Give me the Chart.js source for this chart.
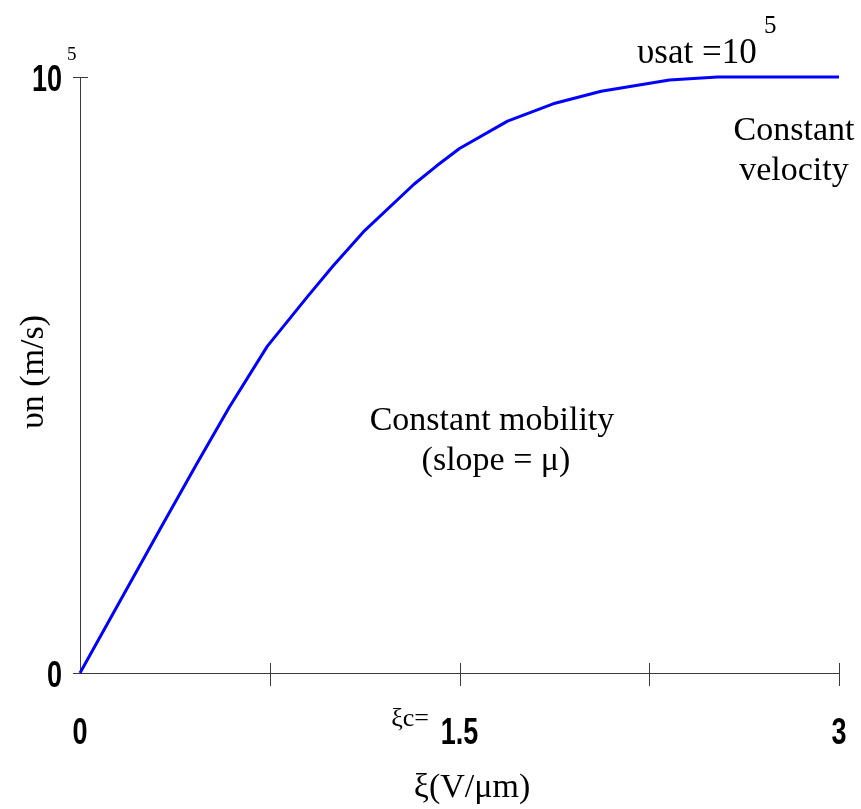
<!DOCTYPE html>
<html>
<head>
<meta charset="utf-8">
<script src="https://cdn.jsdelivr.net/npm/chart.js@4/dist/chart.umd.min.js"></script>
<style>
    html, body { margin: 0; padding: 0; background: #ffffff; }
    #wrap { width: 861px; height: 809px; }
</style>
</head>
<body>
<div id="wrap"><canvas id="velocity-chart" width="861" height="809"></canvas></div>
<script>
// Data: field (V/um) vs drift velocity (m/s)
const fieldValues = [0, 0.16, 0.32, 0.46, 0.59, 0.74, 0.90, 1.00, 1.12, 1.32, 1.41, 1.50, 1.69, 1.87, 2.06, 2.33, 2.52, 3.00];
const velocityValues = [0, 12200, 24400, 35000, 44600, 54800, 63200, 68300, 74000, 82000, 85100, 88000, 92600, 95500, 97600, 99500, 100000, 100000];

// Tick marks and their labels
const xTickValues = [0, 0.75, 1.5, 2.25, 3];
const xTickLabels = ['0', '', '1.5', '', '3'];
const yTickValues = [0, 100000];
const yTickLabels = ['0', '10'];
const yTickSups = ['', '5'];

const SERIF = '"Liberation Serif", "Times New Roman", serif';
const SANS = '"Liberation Sans", Arial, sans-serif';
const AXIS_COLOR = '#3a3a3a';

// Bold, horizontally squeezed tick label (looks like Arial Narrow)
function narrowText(ctx, text, x, y, align) {
    ctx.save();
    ctx.font = 'bold 36px ' + SANS;
    const w = ctx.measureText(text).width * 0.75;
    let left = x;
    if (align === 'center') left = x - w / 2;
    if (align === 'right') left = x - w;
    ctx.translate(left, y);
    ctx.scale(0.75, 1);
    ctx.textAlign = 'left';
    ctx.textBaseline = 'alphabetic';
    ctx.fillText(text, 0, 0);
    ctx.restore();
}

// Axes with crossing tick marks, drawn under the curve
const axesPlugin = {
    id: 'axesPlugin',
    beforeDatasetsDraw(chart) {
        const { ctx, scales } = chart;
        const xs = scales.x, ys = scales.y;
        const x0 = xs.getPixelForValue(0);
        const y0 = ys.getPixelForValue(0);
        const yTop = ys.getPixelForValue(yTickValues[yTickValues.length - 1]);
        ctx.save();
        ctx.strokeStyle = AXIS_COLOR;
        ctx.lineWidth = 1;
        ctx.beginPath();
        // x axis
        ctx.moveTo(x0 - 7, y0 + 0.5);
        ctx.lineTo(xs.getPixelForValue(3), y0 + 0.5);
        // y axis
        ctx.moveTo(x0 + 0.5, y0);
        ctx.lineTo(x0 + 0.5, yTop);
        // y tick at top
        ctx.moveTo(x0 - 7, yTop + 0.5);
        ctx.lineTo(x0 + 8, yTop + 0.5);
        // x ticks
        xTickValues.forEach(v => {
            if (v === 0) return;
            const px = Math.round(xs.getPixelForValue(v)) + 0.5;
            ctx.moveTo(px, y0 - 10);
            ctx.lineTo(px, y0 + 13);
        });
        ctx.stroke();
        ctx.restore();
    },
    afterDraw(chart) {
        const { ctx, scales } = chart;
        const xs = scales.x, ys = scales.y;
        ctx.save();
        ctx.fillStyle = '#000000';

        // x tick labels
        xTickValues.forEach((v, i) => {
            if (!xTickLabels[i]) return;
            narrowText(ctx, xTickLabels[i], xs.getPixelForValue(v), 744, 'center');
        });

        // y tick labels
        yTickValues.forEach((v, i) => {
            const py = ys.getPixelForValue(v);
            narrowText(ctx, yTickLabels[i], 62, py + 14, 'right');
            if (yTickSups[i]) {
                ctx.font = '19px ' + SERIF;
                ctx.textAlign = 'left';
                ctx.fillText(yTickSups[i], 67, py - 17);
            }
        });

        // critical field marker
        ctx.font = '26px ' + SERIF;
        ctx.textAlign = 'right';
        ctx.fillText('ξc=', 429, 726);

        // axis titles
        ctx.font = '34px ' + SERIF;
        ctx.textAlign = 'center';
        ctx.fillText('ξ(V/μm)', 472, 797);
        ctx.save();
        ctx.translate(43, 372);
        ctx.rotate(-Math.PI / 2);
        ctx.fillText('υn (m/s)', 0, 0);
        ctx.restore();

        // annotations
        ctx.font = '35px ' + SERIF;
        ctx.textAlign = 'left';
        ctx.fillText('υsat =10', 637, 63);
        ctx.font = '25px ' + SERIF;
        ctx.fillText('5', 764, 33);

        ctx.font = '34px ' + SERIF;
        ctx.textAlign = 'center';
        ctx.fillText('Constant', 794, 140);
        ctx.fillText('velocity', 794, 180);
        ctx.fillText('Constant mobility', 492, 430);
        ctx.fillText('(slope = μ)', 496, 470);
        ctx.restore();
    }
};

const points = fieldValues.map((f, i) => ({ x: f, y: velocityValues[i] }));

new Chart(document.getElementById('velocity-chart').getContext('2d'), {
    type: 'line',
    data: {
        datasets: [{
            data: points,
            borderColor: '#0000ff',
            borderWidth: 3,
            borderJoinStyle: 'round',
            pointRadius: 0,
            tension: 0,
            fill: false
        }]
    },
    options: {
        responsive: false,
        animation: false,
        devicePixelRatio: 1,
        layout: { padding: { left: 80, right: 22, top: 77, bottom: 136 } },
        plugins: { legend: { display: false }, tooltip: { enabled: false } },
        scales: {
            x: { type: 'linear', min: 0, max: 3, display: false },
            y: { type: 'linear', min: 0, max: 100000, display: false }
        },
        clip: false
    },
    plugins: [axesPlugin]
});
</script>
</body>
</html>
